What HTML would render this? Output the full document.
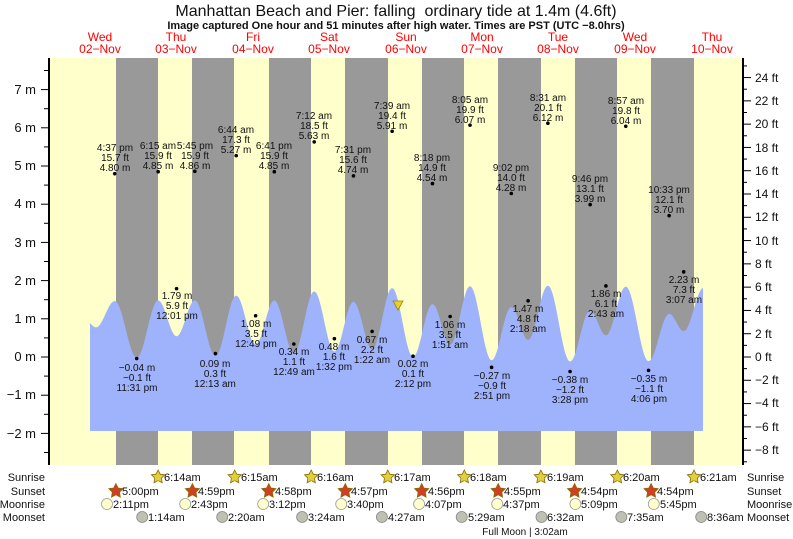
<!DOCTYPE html>
<html><head><meta charset="utf-8"><style>
html,body{margin:0;padding:0;background:#fff;}
svg{display:block;font-family:"Liberation Sans",sans-serif;}
.e{font-size:10px;text-anchor:middle;fill:#111;}
.d{font-size:12px;fill:#f00;text-anchor:middle;}
.ax{font-size:12px;fill:#111;}
.b{font-size:11px;fill:#111;}
</style></head><body>
<svg id="s" width="793" height="539" viewBox="0 0 793 539" xmlns="http://www.w3.org/2000/svg">
<rect x="0" y="0" width="793" height="539" fill="#fff"/>
<rect x="49" y="58" width="694" height="407" fill="#ffffcc"/>
<g fill="#999">
<rect x="116" y="58" width="42" height="407"/><rect x="192" y="58" width="42" height="407"/>
<rect x="269" y="58" width="42" height="407"/><rect x="345" y="58" width="43" height="407"/>
<rect x="422" y="58" width="42" height="407"/><rect x="498" y="58" width="43" height="407"/>
<rect x="575" y="58" width="42" height="407"/><rect x="651" y="58" width="43" height="407"/>
</g>
<path id="curve" fill="#9fb3fd" d=""/>
<g id="ticks" stroke="#000" stroke-width="1"></g>
<line x1="49" y1="58" x2="49" y2="465" stroke="#000" stroke-width="2"/>
<line x1="743" y1="58" x2="743" y2="465" stroke="#000" stroke-width="2"/>
<polygon points="393,301 403,301 398,310" fill="#e8d030" stroke="#a08000" stroke-width="0.8"/>

<text x="396" y="16" style="font-size:16px;text-anchor:middle;fill:#111">Manhattan Beach and Pier: falling &#160;ordinary tide at 1.4m (4.6ft)</text>
<text x="396" y="29" style="font-size:11px;font-weight:bold;text-anchor:middle;fill:#111">Image captured One hour and 51 minutes after high water. Times are PST (UTC −8.0hrs)</text>

<text class="d" x="100" y="41">Wed</text><text class="d" x="100" y="53">02−Nov</text>
<text class="d" x="176" y="41">Thu</text><text class="d" x="176" y="53">03−Nov</text>
<text class="d" x="253" y="41">Fri</text><text class="d" x="253" y="53">04−Nov</text>
<text class="d" x="329" y="41">Sat</text><text class="d" x="329" y="53">05−Nov</text>
<text class="d" x="406" y="41">Sun</text><text class="d" x="406" y="53">06−Nov</text>
<text class="d" x="482" y="41">Mon</text><text class="d" x="482" y="53">07−Nov</text>
<text class="d" x="558" y="41">Tue</text><text class="d" x="558" y="53">08−Nov</text>
<text class="d" x="635" y="41">Wed</text><text class="d" x="635" y="53">09−Nov</text>
<text class="d" x="712" y="41">Thu</text><text class="d" x="712" y="53">10−Nov</text>

<g class="ax" style="text-anchor:end;font-size:13px">
<text x="36" y="94">7 m</text><text x="36" y="132">6 m</text><text x="36" y="170">5 m</text>
<text x="36" y="208">4 m</text><text x="36" y="247">3 m</text><text x="36" y="285">2 m</text>
<text x="36" y="323">1 m</text><text x="36" y="361">0 m</text><text x="36" y="399">−1 m</text>
<text x="36" y="438">−2 m</text></g>
<g class="ax">
<text x="755" y="82">24 ft</text><text x="755" y="105">22 ft</text><text x="755" y="128">20 ft</text>
<text x="755" y="152">18 ft</text><text x="755" y="175">16 ft</text><text x="755" y="198">14 ft</text>
<text x="755" y="221">12 ft</text><text x="755" y="245">10 ft</text><text x="755" y="268">8 ft</text>
<text x="755" y="291">6 ft</text><text x="755" y="314">4 ft</text><text x="755" y="338">2 ft</text>
<text x="755" y="361">0 ft</text><text x="755" y="384">−2 ft</text><text x="755" y="407">−4 ft</text>
<text x="755" y="431">−6 ft</text><text x="755" y="454">−8 ft</text></g>

<g id="dots" fill="#000"></g>
<g class="e">
<text x="115" y="151">4:37 pm</text><text x="115" y="161">15.7 ft</text><text x="115" y="171">4.80 m</text>
<text x="137" y="371">−0.04 m</text><text x="137" y="381">−0.1 ft</text><text x="137" y="391">11:31 pm</text>
<text x="158" y="149">6:15 am</text><text x="158" y="159">15.9 ft</text><text x="158" y="169">4.85 m</text>
<text x="177" y="299">1.79 m</text><text x="177" y="309">5.9 ft</text><text x="177" y="319">12:01 pm</text>
<text x="195" y="149">5:45 pm</text><text x="195" y="159">15.9 ft</text><text x="195" y="169">4.86 m</text>
<text x="215" y="367">0.09 m</text><text x="215" y="377">0.3 ft</text><text x="215" y="387">12:13 am</text>
<text x="236" y="133">6:44 am</text><text x="236" y="143">17.3 ft</text><text x="236" y="153">5.27 m</text>
<text x="256" y="327">1.08 m</text><text x="256" y="337">3.5 ft</text><text x="256" y="347">12:49 pm</text>
<text x="274" y="149">6:41 pm</text><text x="274" y="159">15.9 ft</text><text x="274" y="169">4.85 m</text>
<text x="294" y="355">0.34 m</text><text x="294" y="365">1.1 ft</text><text x="294" y="375">12:49 am</text>
<text x="314" y="119">7:12 am</text><text x="314" y="129">18.5 ft</text><text x="314" y="139">5.63 m</text>
<text x="334" y="350">0.48 m</text><text x="334" y="360">1.6 ft</text><text x="334" y="370">1:32 pm</text>
<text x="353" y="153">7:31 pm</text><text x="353" y="163">15.6 ft</text><text x="353" y="173">4.74 m</text>
<text x="372" y="343">0.67 m</text><text x="372" y="353">2.2 ft</text><text x="372" y="363">1:22 am</text>
<text x="392" y="109">7:39 am</text><text x="392" y="119">19.4 ft</text><text x="392" y="129">5.91 m</text>
<text x="413" y="367">0.02 m</text><text x="413" y="377">0.1 ft</text><text x="413" y="387">2:12 pm</text>
<text x="432" y="161">8:18 pm</text><text x="432" y="171">14.9 ft</text><text x="432" y="181">4.54 m</text>
<text x="450" y="328">1.06 m</text><text x="450" y="338">3.5 ft</text><text x="450" y="348">1:51 am</text>
<text x="470" y="103">8:05 am</text><text x="470" y="113">19.9 ft</text><text x="470" y="123">6.07 m</text>
<text x="492" y="379">−0.27 m</text><text x="492" y="389">−0.9 ft</text><text x="492" y="399">2:51 pm</text>
<text x="511" y="171">9:02 pm</text><text x="511" y="181">14.0 ft</text><text x="511" y="191">4.28 m</text>
<text x="528" y="312">1.47 m</text><text x="528" y="322">4.8 ft</text><text x="528" y="332">2:18 am</text>
<text x="548" y="101">8:31 am</text><text x="548" y="111">20.1 ft</text><text x="548" y="121">6.12 m</text>
<text x="570" y="383">−0.38 m</text><text x="570" y="393">−1.2 ft</text><text x="570" y="403">3:28 pm</text>
<text x="590" y="182">9:46 pm</text><text x="590" y="192">13.1 ft</text><text x="590" y="202">3.99 m</text>
<text x="606" y="297">1.86 m</text><text x="606" y="307">6.1 ft</text><text x="606" y="317">2:43 am</text>
<text x="626" y="104">8:57 am</text><text x="626" y="114">19.8 ft</text><text x="626" y="124">6.04 m</text>
<text x="649" y="382">−0.35 m</text><text x="649" y="392">−1.1 ft</text><text x="649" y="402">4:06 pm</text>
<text x="669" y="193">10:33 pm</text><text x="669" y="203">12.1 ft</text><text x="669" y="213">3.70 m</text>
<text x="684" y="283">2.23 m</text><text x="684" y="293">7.3 ft</text><text x="684" y="303">3:07 am</text>
</g>

<g class="b" style="text-anchor:end"><text x="45" y="481">Sunrise</text><text x="45" y="495">Sunset</text><text x="45" y="508">Moonrise</text><text x="45" y="521">Moonset</text></g>
<g class="b"><text x="747" y="481">Sunrise</text><text x="747" y="495">Sunset</text><text x="747" y="508">Moonrise</text><text x="747" y="521">Moonset</text></g>
<g id="icons"></g>
<g class="b">
<text x="164" y="481">6:14am</text><text x="241" y="481">6:15am</text><text x="317" y="481">6:16am</text><text x="394" y="481">6:17am</text><text x="470" y="481">6:18am</text><text x="547" y="481">6:19am</text><text x="623" y="481">6:20am</text><text x="700" y="481">6:21am</text>
<text x="122" y="495">5:00pm</text><text x="198" y="495">4:59pm</text><text x="275" y="495">4:58pm</text><text x="351" y="495">4:57pm</text><text x="428" y="495">4:56pm</text><text x="504" y="495">4:55pm</text><text x="581" y="495">4:54pm</text><text x="657" y="495">4:54pm</text>
<text x="113" y="508">2:11pm</text><text x="191" y="508">2:43pm</text><text x="269" y="508">3:12pm</text><text x="347" y="508">3:40pm</text><text x="425" y="508">4:07pm</text><text x="503" y="508">4:37pm</text><text x="581" y="508">5:09pm</text><text x="660" y="508">5:45pm</text>
<text x="148" y="521">1:14am</text><text x="228" y="521">2:20am</text><text x="308" y="521">3:24am</text><text x="388" y="521">4:27am</text><text x="468" y="521">5:29am</text><text x="547" y="521">6:32am</text><text x="627" y="521">7:35am</text><text x="707" y="521">8:36am</text>
<text x="525" y="535" style="text-anchor:middle;font-size:10px">Full Moon | 3:02am</text>
</g>
</svg>
<script>
(function(){
var NS="http://www.w3.org/2000/svg";
function el(t,a,p){var e=document.createElementNS(NS,t);for(var k in a)e.setAttribute(k,a[k]);p.appendChild(e);return e;}
var ex=[[-5,3.3],[-1.25,2.55],[4.617,4.80],[11.517,-0.04],[18.25,4.85],[24.017,1.79],[29.75,4.86],[36.217,0.09],[42.733,5.27],[48.817,1.08],[54.683,4.85],[60.817,0.34],[67.2,5.63],[73.533,0.48],[79.517,4.74],[85.367,0.67],[91.65,5.91],[98.2,0.02],[104.3,4.54],[109.85,1.06],[116.083,6.07],[122.85,-0.27],[129.033,4.28],[134.3,1.47],[140.517,6.12],[147.467,-0.38],[153.767,3.99],[158.717,1.86],[164.95,6.04],[172.1,-0.35],[178.55,3.70],[183.117,2.23],[189.4,5.95]];
function X(h){return 100+h*3.1875;}
function Y(m){return 357-m*38.2;}
var d="M90,431";
for(var x=90;x<=703;x+=0.5){var h=(x-100)/3.1875,i=0;while(i<ex.length-2&&ex[i+1][0]<h)i++;
var a=ex[i],b=ex[i+1],f=(h-a[0])/(b[0]-a[0]);f=Math.max(0,Math.min(1,f));
var v=a[1]+(b[1]-a[1])*(1-Math.cos(Math.PI*f))/2;d+=" L"+x+","+Y(v*0.3048).toFixed(1);}
d+=" L703,431 Z";document.getElementById("curve").setAttribute("d",d);
var dots=document.getElementById("dots");
for(var j=2;j<ex.length-1;j++)el("circle",{cx:X(ex[j][0]),cy:Y(ex[j][1]),r:1.8},dots);
var tk=document.getElementById("ticks");
for(var m=-2.5;m<=7.5;m+=0.5){var y=Y(m);el("line",{x1:(m%1==0)?41:44,y1:y,x2:49,y2:y},tk);}
for(var ft=-9;ft<=25;ft++){var y2=357-ft*11.643;if(y2<58||y2>465)continue;el("line",{x1:743,y1:y2,x2:(ft%2==0)?751:747,y2:y2},tk);}
var ic=document.getElementById("icons");
function star(cx,cy,fill,r){var p=[];for(var k=0;k<10;k++){var rr=k%2?r*0.5:r,an=-Math.PI/2+k*Math.PI/5;p.push((cx+rr*Math.cos(an)).toFixed(1)+","+(cy+rr*Math.sin(an)).toFixed(1));}
el("polygon",{points:p.join(" "),fill:fill,stroke:"#8a6a00","stroke-width":0.8},ic);}
[158.1,234.7,311.2,387.8,464.3,540.9,617.4,694].forEach(function(x){star(x,477,"#e0d040",7);el("circle",{cx:x,cy:477.5,r:3.2,fill:"#e0d040"},ic);});
[115.9,192.4,268.8,345.3,421.7,498.2,574.6,651.1].forEach(function(x){star(x,491,"#d04020",7.5);});
[107,185.2,263.2,341.2,419.1,497.2,575.4,653.8].forEach(function(x){el("circle",{cx:x,cy:504,r:5.5,fill:"#ffffcc",stroke:"#999","stroke-width":0.8},ic);});
[142.2,222.2,302.1,381.9,461.7,541.5,621.3,701.2].forEach(function(x){el("circle",{cx:x,cy:517,r:5.5,fill:"#c0c0b0",stroke:"#888","stroke-width":0.8},ic);});
})();
</script>
</body></html>
